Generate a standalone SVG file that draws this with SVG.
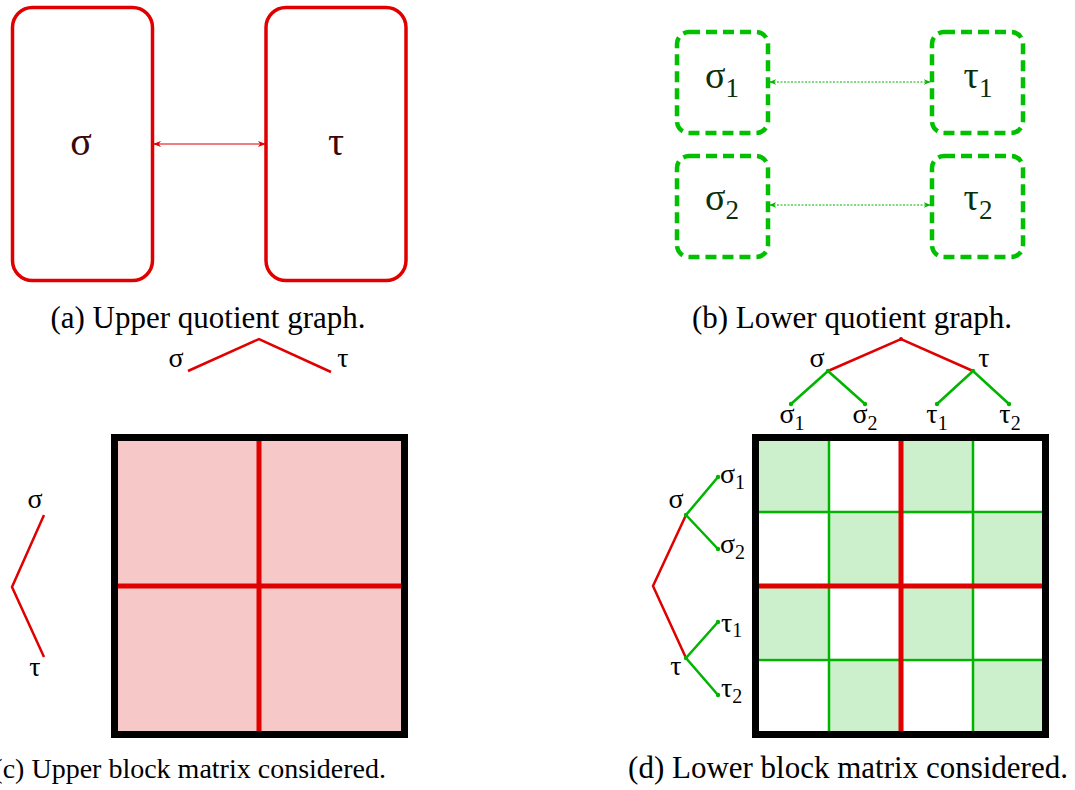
<svg xmlns="http://www.w3.org/2000/svg" width="1075" height="790" viewBox="0 0 1075 790" font-family="'Liberation Serif', 'Times New Roman', serif">
<style>
text{font-family:"Liberation Serif","Times New Roman",serif;}
.cap{font-size:31px;fill:#000;}
.capc{font-size:28px;fill:#000;}
.lbl{font-size:28px;fill:#000;}
.sub{font-size:20px;}
.ubox{fill:none;stroke:#e00000;stroke-width:3.5;}
.lbox{fill:none;stroke:#00c000;stroke-width:4.5;stroke-dasharray:11,6;}
.red{stroke:#e00000;stroke-width:2.5;fill:none;}
.grn{stroke:#00b400;stroke-width:2.5;fill:none;}
.dot{fill:#00b400;}
.rdot{fill:#e00000;}
</style>
<defs>
<marker id="ar" viewBox="0 0 10 10" refX="9" refY="5" markerWidth="8" markerHeight="8" orient="auto-start-reverse" markerUnits="userSpaceOnUse">
<path d="M0,1 L10,5 L0,9 L3,5 z" fill="#e00000"/>
</marker>
<marker id="ag" viewBox="0 0 10 10" refX="9" refY="5" markerWidth="7" markerHeight="7" orient="auto-start-reverse" markerUnits="userSpaceOnUse">
<path d="M0,1 L10,5 L0,9 L3,5 z" fill="#00b400"/>
</marker>
</defs>

<g id="a-sigma">
<rect class="ubox" x="12.5" y="7.5" width="140" height="273" rx="20"/>
<text x="81" y="155" font-size="40" fill="#3a0808" text-anchor="middle">σ</text>
</g>
<g id="a-tau">
<rect class="ubox" x="266" y="7.5" width="140" height="273" rx="20"/>
<text x="336" y="155" font-size="40" fill="#3a0808" text-anchor="middle">τ</text>
</g>

<g id="b-sigma1">
<rect class="lbox" x="677" y="32" width="91" height="101" rx="12"/>
<text x="722" y="88" font-size="38" fill="#0a300a" text-anchor="middle">σ<tspan font-size="27" dy="9">1</tspan></text>
</g>
<g id="b-tau1">
<rect class="lbox" x="932" y="32" width="91" height="101" rx="12"/>
<text x="978" y="88" font-size="38" fill="#0a300a" text-anchor="middle">τ<tspan font-size="27" dy="9">1</tspan></text>
</g>
<g id="b-sigma2">
<rect class="lbox" x="677" y="156" width="91" height="101" rx="12"/>
<text x="722" y="210" font-size="38" fill="#0a300a" text-anchor="middle">σ<tspan font-size="27" dy="9">2</tspan></text>
</g>
<g id="b-tau2">
<rect class="lbox" x="932" y="156" width="91" height="101" rx="12"/>
<text x="978" y="210" font-size="38" fill="#0a300a" text-anchor="middle">τ<tspan font-size="27" dy="9">2</tspan></text>
</g>

<g id="connectors">
<line x1="154" y1="144" x2="265" y2="144" stroke="#e00000" stroke-width="1.2" marker-start="url(#ar)" marker-end="url(#ar)"/>
<line x1="770" y1="82" x2="930" y2="82" stroke="#00b400" stroke-width="1" stroke-dasharray="2,1.5" marker-start="url(#ag)" marker-end="url(#ag)"/>
<line x1="770" y1="205" x2="930" y2="205" stroke="#00b400" stroke-width="1" stroke-dasharray="2,1.5" marker-start="url(#ag)" marker-end="url(#ag)"/>
</g>

<g id="captions">
<text class="cap" x="208" y="328" text-anchor="middle">(a) Upper quotient graph.</text>
<text class="cap" x="852" y="328" text-anchor="middle">(b) Lower quotient graph.</text>
<text class="capc" x="386" y="778" text-anchor="end">(c) Upper block matrix considered.</text>
<text class="cap" x="848" y="778" text-anchor="middle">(d) Lower block matrix considered.</text>
</g>

<g id="c-matrix">
<rect x="114.5" y="437.5" width="290" height="297" fill="#f6c8c8" stroke="#000" stroke-width="7"/>
<line x1="259" y1="441" x2="259" y2="731" stroke="#e00000" stroke-width="5"/>
<line x1="118" y1="586" x2="401" y2="586" stroke="#e00000" stroke-width="5"/>
</g>

<g id="c-toptree">
<polyline class="red" points="188,371 259,339 331,372"/>
<text class="lbl" x="176" y="367" text-anchor="middle">σ</text>
<text class="lbl" x="343" y="367" text-anchor="middle">τ</text>
</g>

<g id="c-lefttree">
<polyline class="red" points="44,515 12,587 44,657"/>
<text class="lbl" x="35" y="508" text-anchor="middle">σ</text>
<text class="lbl" x="35" y="676" text-anchor="middle">τ</text>
</g>

<g id="d-matrix">
<rect x="759" y="441" width="71" height="72.5" fill="#ccf0cc"/>
<rect x="901" y="441" width="71" height="72.5" fill="#ccf0cc"/>
<rect x="830" y="513.5" width="71" height="72.5" fill="#ccf0cc"/>
<rect x="972" y="513.5" width="71" height="72.5" fill="#ccf0cc"/>
<rect x="759" y="586" width="71" height="72.5" fill="#ccf0cc"/>
<rect x="901" y="586" width="71" height="72.5" fill="#ccf0cc"/>
<rect x="830" y="658.5" width="71" height="72.5" fill="#ccf0cc"/>
<rect x="972" y="658.5" width="71" height="72.5" fill="#ccf0cc"/>
<line x1="829" y1="441" x2="829" y2="731" stroke="#00b400" stroke-width="2.5"/>
<line x1="973" y1="441" x2="973" y2="731" stroke="#00b400" stroke-width="2.5"/>
<line x1="759" y1="512" x2="1042" y2="512" stroke="#00b400" stroke-width="2.5"/>
<line x1="759" y1="660" x2="1042" y2="660" stroke="#00b400" stroke-width="2.5"/>
<line x1="901" y1="441" x2="901" y2="731" stroke="#e00000" stroke-width="5"/>
<line x1="759" y1="586" x2="1042" y2="586" stroke="#e00000" stroke-width="5"/>
<rect x="755.5" y="437.5" width="290" height="297" fill="none" stroke="#000" stroke-width="7"/>
</g>

<g id="d-toptree">
<polyline class="red" points="828,371 901,339 973,371"/>
<polyline class="grn" points="791,404 828,371 865,404"/>
<polyline class="grn" points="937,404 973,371 1009,404"/>
<circle class="rdot" cx="901" cy="339" r="2"/>
<circle class="dot" cx="828" cy="371" r="2.2"/>
<circle class="dot" cx="973" cy="371" r="2.2"/>
<circle class="dot" cx="791" cy="404" r="2.2"/>
<circle class="dot" cx="865" cy="404" r="2.2"/>
<circle class="dot" cx="937" cy="404" r="2.2"/>
<circle class="dot" cx="1009" cy="404" r="2.2"/>
<text class="lbl" x="817" y="367" text-anchor="middle">σ</text>
<text class="lbl" x="984" y="367" text-anchor="middle">τ</text>
<text class="lbl" x="792" y="423" text-anchor="middle">σ<tspan class="sub" dy="7">1</tspan></text>
<text class="lbl" x="865" y="423" text-anchor="middle">σ<tspan class="sub" dy="7">2</tspan></text>
<text class="lbl" x="937" y="423" text-anchor="middle">τ<tspan class="sub" dy="7">1</tspan></text>
<text class="lbl" x="1010" y="423" text-anchor="middle">τ<tspan class="sub" dy="7">2</tspan></text>
</g>

<g id="d-lefttree">
<polyline class="red" points="686,515 653,586 686,658"/>
<polyline class="grn" points="718,477 686,515 718,549"/>
<polyline class="grn" points="718,622 686,658 718,695"/>
<circle class="dot" cx="686" cy="515" r="2.2"/>
<circle class="dot" cx="686" cy="658" r="2.2"/>
<circle class="dot" cx="718" cy="477" r="2.2"/>
<circle class="dot" cx="718" cy="549" r="2.2"/>
<circle class="dot" cx="718" cy="622" r="2.2"/>
<circle class="dot" cx="718" cy="695" r="2.2"/>
<text class="lbl" x="676" y="508" text-anchor="middle">σ</text>
<text class="lbl" x="676" y="675" text-anchor="middle">τ</text>
<text class="lbl" x="720" y="483">σ<tspan class="sub" dy="6">1</tspan></text>
<text class="lbl" x="720" y="553">σ<tspan class="sub" dy="6">2</tspan></text>
<text class="lbl" x="721" y="632">τ<tspan class="sub" dy="5">1</tspan></text>
<text class="lbl" x="721" y="697">τ<tspan class="sub" dy="6">2</tspan></text>
</g>
</svg>
